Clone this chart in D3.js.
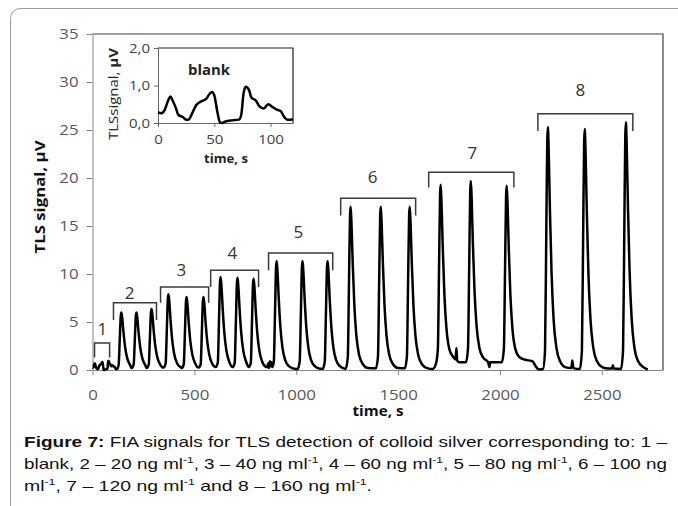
<!DOCTYPE html>
<html>
<head>
<meta charset="utf-8">
<script src="https://cdn.jsdelivr.net/npm/d3@7"></script>
<style>
  body { margin: 0; background: #fff; }
  svg { display: block; }
</style>
</head>
<body>
<svg id="chart" width="678" height="506"></svg>
<script>
// blank run, shown in the inset and as group 1 of the main trace
const blankTime = [0, 3, 6, 9, 11, 13, 16, 18, 22, 25, 27, 31, 34, 38, 43, 46, 48, 50, 53, 55,
  57, 60, 66, 72, 74, 76, 78, 81, 83, 87, 90, 94, 98, 102, 106, 109, 112, 115, 118, 120];
const blankSignal = [0.28, 0.26, 0.35, 0.6, 0.71, 0.6, 0.39, 0.22, 0.16, 0.09, 0.09, 0.3, 0.48, 0.57, 0.65, 0.78, 0.83, 0.74, 0.26, 0.02,
  0, 0.04, 0.07, 0.09, 0.22, 0.78, 0.97, 0.87, 0.68, 0.6, 0.45, 0.39, 0.5, 0.42, 0.35, 0.32, 0.17, 0.09, 0.09, 0.1];

// rest of the FIA trace (time, s / signal, uV), one row per group of injections
const traceTime = [
  128, 134, 139, 142, 146, 152, 160, 170, 184, 192, 202, 208, 213, 216, 220, 226, 234, 244, 258, 266, 276, 282, 287, 290, 294, 300, 308, 318, 332,
  349, 359, 365, 370, 373, 377, 383, 391, 401, 415, 433, 438, 448, 454, 459, 462, 466, 472, 480, 490, 504, 521, 531, 537, 542, 545, 549, 555, 563, 573, 587,
  605, 615, 621, 626, 629, 633, 639, 647, 657, 671, 688, 698, 704, 709, 712, 716, 722, 730, 740, 754, 767, 777, 783, 788, 791, 795, 801, 809, 819, 833, 851,
  858, 862, 866, 870, 874, 878, 882,
  890, 896, 901, 904, 908, 914, 922, 932, 946, 964, 989, 1007, 1017, 1023, 1028, 1031, 1035, 1041, 1049, 1059, 1073, 1091, 1116,
  1130, 1140, 1146, 1151, 1154, 1158, 1164, 1172, 1182, 1196, 1214, 1239,
  1243, 1253, 1259, 1264, 1267, 1271, 1277, 1285, 1295, 1309, 1327, 1352, 1391, 1401, 1407, 1412, 1415, 1419, 1425, 1433, 1443, 1457, 1475, 1500,
  1533, 1543, 1549, 1554, 1557, 1561, 1567, 1575, 1585, 1599, 1617, 1642, 1670, 1685,
  1695, 1701, 1706, 1709, 1713, 1719, 1727, 1737, 1751, 1769, 1782, 1786, 1790, 1800, 1833,
  1843, 1849, 1854, 1857, 1861, 1867, 1875, 1885, 1899, 1917, 1942, 1948, 1952, 2000, 2009,
  2019, 2025, 2030, 2033, 2037, 2043, 2051, 2061, 2075, 2093, 2118, 2140, 2160, 2175, 2190,
  2211, 2221, 2227, 2232, 2235, 2239, 2245, 2253, 2263, 2277, 2295, 2320, 2350, 2355, 2360,
  2392, 2402, 2408, 2413, 2416, 2420, 2426, 2434, 2444, 2458, 2476, 2501, 2530, 2550, 2554, 2558,
  2594, 2604, 2610, 2615, 2618, 2622, 2628, 2636, 2646, 2660, 2678, 2703, 2725
];
const traceSignal = [
  0.48, 3.3, 5.7, 6.0, 5.4, 3.96, 2.4, 1.26, 0.54, 0.2, 0.55, 3.35, 5.7, 6.0, 5.4, 3.96, 2.4, 1.26, 0.54, 0.2, 0.55, 3.5, 6.03, 6.35, 5.72, 4.19, 2.54, 1.33, 0.57,
  0.25, 0.7, 4.35, 7.5, 7.9, 7.11, 5.21, 3.16, 1.66, 0.71, 0.28, 0.2, 0.61, 4.18, 7.22, 7.6, 6.84, 5.02, 3.04, 1.6, 0.68, 0.25, 0.61, 4.18, 7.22, 7.6, 6.84, 5.02, 3.04, 1.6, 0.68,
  0.3, 0.78, 5.34, 9.22, 9.7, 8.73, 6.4, 3.88, 2.04, 0.87, 0.3, 0.77, 5.28, 9.12, 9.6, 8.64, 6.34, 3.84, 2.02, 0.86, 0.3, 0.76, 5.23, 9.03, 9.5, 8.55, 6.27, 3.8, 2.0, 0.86, 0.33,
  0.3, 0.7, 0.2, 0.9, 0.4, 0.8, 0.3,
  0.91, 6.24, 10.78, 11.35, 10.22, 7.49, 4.54, 2.38, 1.02, 0.4, 0.14, 0.11, 0.91, 6.24, 10.78, 11.35, 10.22, 7.49, 4.54, 2.38, 1.02, 0.4, 0.14,
  0.12, 0.91, 6.24, 10.78, 11.35, 10.22, 7.49, 4.54, 2.38, 1.02, 0.4, 0.14,
  0.17, 1.36, 9.35, 16.15, 17, 15.3, 11.22, 6.8, 3.57, 1.53, 0.6, 0.2, 0.17, 1.36, 9.35, 16.15, 17, 15.3, 11.22, 6.8, 3.57, 1.53, 0.6, 0.2,
  0.17, 1.36, 9.35, 16.15, 17, 15.3, 11.22, 6.8, 3.57, 1.53, 0.6, 0.2, 0.1, 0.6,
  2.2, 10.9, 18.4, 19.3, 17.4, 12.8, 7.9, 4.4, 2.2, 1.4, 1.1, 2.3, 1.0, 0.8, 0.8,
  2.3, 11.2, 18.8, 19.7, 17.8, 13.1, 8.2, 4.6, 2.3, 1.3, 0.8, 0.3, 0.8, 0.8, 0.8,
  2.2, 10.9, 18.3, 19.2, 17.3, 12.7, 7.8, 4.3, 2.2, 1.4, 1.1, 1.0, 0.9, 0.4, 0.05,
  0.1, 2.0, 13.9, 24.0, 25.3, 22.8, 16.7, 10.1, 5.3, 2.3, 0.9, 0.3, 0.2, 1.0, 0.2,
  0.1, 2.0, 13.8, 23.8, 25.1, 22.6, 16.6, 10.0, 5.3, 2.3, 0.9, 0.3, 0.15, 0.15, 0.5, 0.15,
  0.1, 2.1, 14.2, 24.5, 25.8, 23.2, 17.0, 10.3, 5.4, 2.3, 0.9, 0.3, 0.05
];

// brackets over each group: time span, top and leg end (uV)
const groupLabels = ["1", "2", "3", "4", "5", "6", "7", "8"];
const groupStart = [10, 103, 334, 580, 864, 1218, 1650, 2186];
const groupEnd = [84, 314, 570, 815, 1179, 1586, 2068, 2652];
const groupTop = [2.8, 7.0, 8.65, 10.4, 12.2, 17.9, 20.6, 26.7];
const groupLeg = [1.3, 5.2, 7.0, 8.65, 10.4, 16.1, 19.0, 24.9];
const labelTime = [49, 182, 436, 687, 1010, 1375, 1864, 2394];
const labelValue = [3.65, 7.4, 9.8, 11.6, 13.75, 19.5, 22.0, 28.5];

const yTicks = [0, 5, 10, 15, 20, 25, 30, 35];
const xTicks = [0, 500, 1000, 1500, 2000, 2500];
const insetYTicks = [0, 1, 2];
const insetXTicks = [0, 50, 100];

const captionLines = [
  "**Figure 7:** FIA signals for TLS detection of colloid silver corresponding to: 1 –",
  "blank, 2 – 20 ng ml^-1^, 3 – 40 ng ml^-1^, 4 – 60 ng ml^-1^, 5 – 80 ng ml^-1^, 6 – 100 ng",
  "ml^-1^, 7 – 120 ng ml^-1^ and 8 – 160 ng ml^-1^."
];
const captionWidths = [643, 643, 348];

const FONT = "'Open Sans', Lato, sans-serif";
const svg = d3.select("#chart");

// stretch text horizontally (the figure is a widened Excel chart)
function stretch(sel, k) {
  sel.each(function () {
    const w = this.getComputedTextLength();
    d3.select(this).attr("textLength", w * k).attr("lengthAdjust", "spacingAndGlyphs");
  });
}
function fitText(sel, width) {
  sel.attr("textLength", width).attr("lengthAdjust", "spacingAndGlyphs");
}

// outer rounded frame
svg.append("rect")
  .attr("x", 10.5).attr("y", 8.5)
  .attr("width", 720).attr("height", 560)
  .attr("rx", 10)
  .attr("fill", "none")
  .attr("stroke", "#9a9a9a");

// ---------- main chart ----------
const x = d3.scaleLinear().domain([0, 2800]).range([92.5, 663]);
const y = d3.scaleLinear().domain([0, 35]).range([370, 34]);

// plot box top and right
svg.append("path")
  .attr("d", `M${x(0)},${y(35)} H${x(2800)} V${y(0)}`)
  .attr("fill", "none")
  .attr("stroke", "#404040")
  .attr("stroke-width", 1.2);

const yAxis = svg.append("g")
  .attr("transform", `translate(${x(0)},0)`)
  .call(d3.axisLeft(y).tickValues(yTicks).tickSize(6).tickSizeOuter(0).tickPadding(8));
const xAxis = svg.append("g")
  .attr("transform", `translate(0,${y(0)})`)
  .call(d3.axisBottom(x).tickValues(xTicks).tickFormat(d3.format("d"))
    .tickSize(5).tickSizeOuter(0).tickPadding(15));

[yAxis, xAxis].forEach((ax) => {
  ax.select(".domain").attr("stroke", "#868686");
  ax.selectAll(".tick line").attr("stroke", "#868686");
  ax.selectAll(".tick text")
    .attr("fill", "#595959")
    .style("font-family", FONT)
    .style("font-size", "14px");
  stretch(ax.selectAll(".tick text"), 1.2);
});

const line = d3.line()
  .x((d) => x(d[0]))
  .y((d) => y(d[1]))
  .curve(d3.curveMonotoneX);

const mainPoints = blankTime.map((t, i) => [t, blankSignal[i]])
  .concat(traceTime.map((t, i) => [t, traceSignal[i]]));

svg.append("path")
  .datum(mainPoints)
  .attr("d", line)
  .attr("fill", "none")
  .attr("stroke", "#000")
  .attr("stroke-width", 2.5)
  .attr("stroke-linejoin", "round");

// group brackets and numbers
svg.selectAll(".bracket")
  .data(groupLabels)
  .enter()
  .append("path")
  .attr("class", "bracket")
  .attr("d", (d, i) => `M${x(groupStart[i])},${y(groupLeg[i])} V${y(groupTop[i])} H${x(groupEnd[i])} V${y(groupLeg[i])}`)
  .attr("fill", "none")
  .attr("stroke", "#3a3a3a")
  .attr("stroke-width", 1.5);

svg.selectAll(".group-label")
  .data(groupLabels)
  .enter()
  .append("text")
  .attr("class", "group-label")
  .attr("x", (d, i) => x(labelTime[i]))
  .attr("y", (d, i) => y(labelValue[i]))
  .attr("text-anchor", "middle")
  .attr("fill", "#333")
  .style("font-family", FONT)
  .style("font-size", "17px")
  .text((d) => d);

// axis titles
svg.append("text")
  .attr("transform", "translate(45,197) rotate(-90)")
  .attr("text-anchor", "middle")
  .attr("fill", "#111")
  .style("font-family", FONT)
  .style("font-size", "14px")
  .style("font-weight", "bold")
  .text("TLS signal, μV")
  .call(fitText, 113);

svg.append("text")
  .attr("x", 378).attr("y", 416)
  .attr("text-anchor", "middle")
  .attr("fill", "#111")
  .style("font-family", FONT)
  .style("font-size", "14px")
  .style("font-weight", "bold")
  .text("time, s")
  .call(fitText, 51);

// ---------- inset: blank ----------
const ix = d3.scaleLinear().domain([0, 120]).range([158, 293]);
const iy = d3.scaleLinear().domain([0, 2]).range([123, 48]);

svg.append("path")
  .attr("d", `M${ix(0)},${iy(2)} H${ix(120)} V${iy(0)}`)
  .attr("fill", "none")
  .attr("stroke", "#222")
  .attr("stroke-width", 1.2);

const iyAxis = svg.append("g")
  .attr("transform", `translate(${ix(0)},0)`)
  .call(d3.axisLeft(iy).tickValues(insetYTicks).tickSize(4).tickSizeOuter(0).tickPadding(4)
    .tickFormat((d) => d3.format(".1f")(d).replace(".", ",")));
const ixAxis = svg.append("g")
  .attr("transform", `translate(0,${iy(0)})`)
  .call(d3.axisBottom(ix).tickValues(insetXTicks).tickSize(4).tickSizeOuter(0).tickPadding(8));

[iyAxis, ixAxis].forEach((ax) => {
  ax.select(".domain").attr("stroke", "#666");
  ax.selectAll(".tick line").attr("stroke", "#666");
  ax.selectAll(".tick text")
    .attr("fill", "#404040")
    .style("font-family", FONT)
    .style("font-size", "12.5px");
  stretch(ax.selectAll(".tick text"), 1.2);
});

svg.append("path")
  .datum(blankTime.map((t, i) => [t, blankSignal[i]]))
  .attr("d", d3.line().x((d) => ix(d[0])).y((d) => iy(d[1])).curve(d3.curveMonotoneX))
  .attr("fill", "none")
  .attr("stroke", "#000")
  .attr("stroke-width", 2.5)
  .attr("stroke-linejoin", "round");

svg.append("text")
  .attr("x", 209).attr("y", 75)
  .attr("text-anchor", "middle")
  .attr("fill", "#222")
  .style("font-family", FONT)
  .style("font-size", "14px")
  .style("font-weight", "bold")
  .text("blank")
  .call(fitText, 42);

const insetTitle = svg.append("text")
  .attr("transform", "translate(118,94) rotate(-90)")
  .attr("text-anchor", "middle")
  .attr("fill", "#222")
  .style("font-family", FONT)
  .style("font-size", "12.5px");
insetTitle.append("tspan").text("TLSsignal, ");
insetTitle.append("tspan").style("font-weight", "bold").text("μV");
insetTitle.call(fitText, 92);

svg.append("text")
  .attr("x", 226).attr("y", 163)
  .attr("text-anchor", "middle")
  .attr("fill", "#222")
  .style("font-family", FONT)
  .style("font-size", "12.5px")
  .style("font-weight", "bold")
  .text("time, s")
  .call(fitText, 44);

// ---------- caption ----------
// justified, slightly widened lines as on the source page
captionLines.forEach((str, i) => {
  const text = svg.append("text")
    .attr("x", 24)
    .attr("y", 447 + i * 22)
    .attr("fill", "#111")
    .style("font-family", "'Liberation Sans', Arial, sans-serif")
    .style("font-size", "15px");
  let raised = false;
  str.split(/(\*\*[^*]+\*\*|\^[^^]+\^)/).filter((s) => s).forEach((part) => {
    const ts = text.append("tspan");
    if (part.startsWith("**")) {
      ts.text(part.slice(2, -2)).style("font-weight", "bold");
    } else if (part.startsWith("^")) {
      ts.text(part.slice(1, -1)).style("font-size", "9.5px").attr("dy", -6);
      raised = true;
    } else {
      ts.text(part);
      if (raised) { ts.attr("dy", 6); raised = false; }
    }
  });
  text.attr("textLength", captionWidths[i]).attr("lengthAdjust", "spacingAndGlyphs");
});
</script>
</body>
</html>
